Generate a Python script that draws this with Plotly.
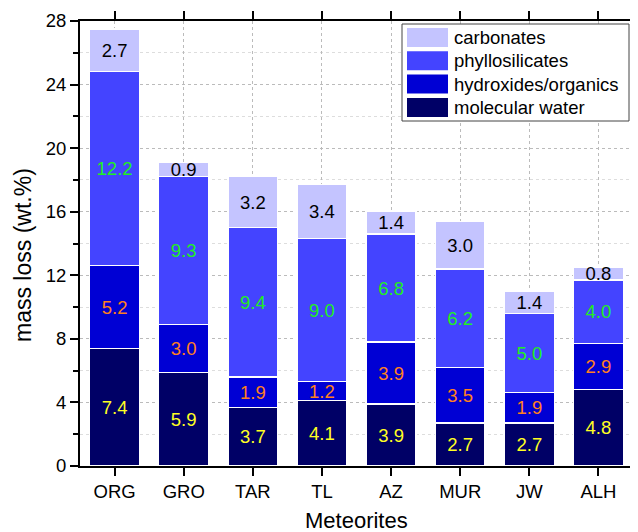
import plotly.graph_objects as go

meteorites = ["ORG", "GRO", "TAR", "TL", "AZ", "MUR", "JW", "ALH"]
molecular_water = [7.4, 5.9, 3.7, 4.1, 3.9, 2.7, 2.7, 4.8]
hydroxides_organics = [5.2, 3.0, 1.9, 1.2, 3.9, 3.5, 1.9, 2.9]
phyllosilicates = [12.2, 9.3, 9.4, 9.0, 6.8, 6.2, 5.0, 4.0]
carbonates = [2.7, 0.9, 3.2, 3.4, 1.4, 3.0, 1.4, 0.8]

series = [
    ("molecular water", molecular_water, "#000066", "#FFFF22"),
    ("hydroxides/organics", hydroxides_organics, "#0000D4", "#FF8020"),
    ("phyllosilicates", phyllosilicates, "#4444FF", "#22EE22"),
    ("carbonates", carbonates, "#C4C4FF", "#000000"),
]

font = "Liberation Sans, Arial, sans-serif"
fig = go.Figure()
for name, vals, col, tcol in series:
    fig.add_trace(go.Bar(
        x=meteorites, y=vals, name=name,
        marker=dict(color=col, line=dict(color="white", width=1.2)),
        text=[f"{v:.1f}" for v in vals],
        textposition="inside", insidetextanchor="middle", textangle=0,
        textfont=dict(color=tcol, size=18.5, family=font),
        width=0.72, showlegend=False,
    ))

# page has an 8px body margin; figure pixel coords below are page coords
off = 8
plot_l, plot_r, plot_t, plot_b = 80, 633, 21, 466
def px(x):
    return (x - plot_l) / (plot_r - plot_l)
def py(y):
    return (plot_b - y) / (plot_b - plot_t)

shapes = [dict(type="rect", xref="paper", yref="paper",
               x0=px(402), x1=px(629), y0=py(121), y1=py(24),
               fillcolor="white", line=dict(color="#444444", width=1), layer="above")]
annotations = []
for i, (name, vals, col, tcol) in enumerate(reversed(series)):
    top = 28 + i * 23.3
    shapes.append(dict(type="rect", xref="paper", yref="paper",
                       x0=px(407), x1=px(448), y0=py(top + 19), y1=py(top),
                       fillcolor=col, line=dict(width=0), layer="above"))
    annotations.append(dict(xref="paper", yref="paper", x=px(452), y=py(top + 9.5),
                            text=name, showarrow=False, xanchor="left", yanchor="middle",
                            font=dict(size=18.5, color="black", family=font)))

# axis titles
annotations.append(dict(xref="paper", yref="paper", x=px(23), y=py(255),
                        text="mass loss (wt.%)", textangle=-90, showarrow=False,
                        xanchor="center", yanchor="middle",
                        font=dict(size=23, color="black", family=font)))
annotations.append(dict(xref="paper", yref="paper", x=px(356), y=py(520),
                        text="Meteorites", showarrow=False,
                        xanchor="center", yanchor="middle",
                        font=dict(size=22, color="black", family=font)))

axis_common = dict(
    showline=True, linecolor="black", linewidth=2, mirror="allticks",
    ticks="outside", tickcolor="black", tickwidth=2, ticklen=8,
    tickfont=dict(size=18.5, color="black", family=font),
    zeroline=False, automargin=False,
)
fig.update_layout(
    barmode="stack",
    width=638 - off, height=532 - off,
    margin=dict(l=plot_l - off, r=638 - plot_r, t=plot_t - off, b=532 - plot_b),
    paper_bgcolor="white", plot_bgcolor="white",
    font=dict(family=font, color="black"),
    uniformtext=dict(minsize=18.5, mode="show"),
    showlegend=False,
    shapes=shapes, annotations=annotations,
    xaxis=dict(
        **axis_common,
        showgrid=True, gridcolor="#BBBBBB", griddash="dot", gridwidth=1,
    ),
    yaxis=dict(
        **axis_common,
        range=[0, 28], tickvals=[0, 4, 8, 12, 16, 20, 24, 28],
        showgrid=True, gridcolor="#BBBBBB", griddash="dot", gridwidth=1,
        minor=dict(tickvals=[2, 6, 10, 14, 18, 22, 26], ticks="outside", ticklen=5,
                   tickcolor="black", tickwidth=2,
                   showgrid=True, gridcolor="#DDDDDD", griddash="dot", gridwidth=1),
    ),
)
fig.write_html("out.html")
